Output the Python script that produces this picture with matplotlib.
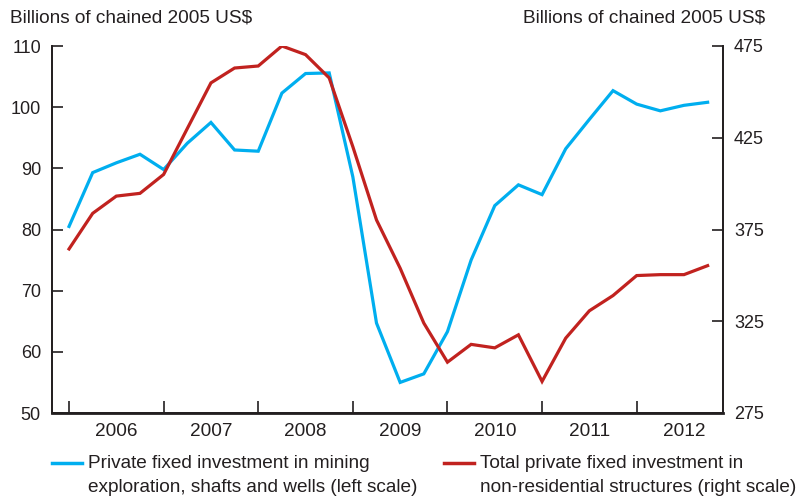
import matplotlib.pyplot as plt
from matplotlib.lines import Line2D

plt.rcParams['font.family'] = ['Liberation Sans', 'DejaVu Sans']

# quarterly data, 2005 Q4 to 2012 Q3
quarters = list(range(28))
mining = [80.5, 89.3, 90.9, 92.3, 89.8, 94.1, 97.5, 93.0, 92.8, 102.3,
          105.5, 105.6, 88.6, 64.7, 55.0, 56.4, 63.3, 75.0, 83.9, 87.3,
          85.7, 93.2, 98.0, 102.7, 100.5, 99.4, 100.3, 100.8]
structures = [364.4, 383.8, 393.2, 394.7, 405.0, 430.0, 454.9, 463.0, 464.1, 475.0,
              470.3, 457.6, 420.1, 380.2, 353.9, 324.0, 302.7, 312.4, 310.5, 317.6,
              292.2, 315.8, 330.7, 339.0, 349.9, 350.4, 350.4, 355.3]
years = ['2006', '2007', '2008', '2009', '2010', '2011', '2012']
year_ticks = [0, 4, 8, 12, 16, 20, 24]
year_centres = [2, 6, 10, 14, 18, 22, 26]

blue = '#00aeef'
red = '#c1221f'
ink = '#231f20'
fs = 13.7

fig = plt.figure(figsize=(8.05, 5.0), dpi=100)
ax = fig.add_axes([52 / 805, 1 - 413 / 500, (723 - 52) / 805, (413 - 46) / 500])
ax2 = ax.twinx()

ax.plot(quarters, mining, color=blue, lw=2.3, solid_joinstyle='miter', zorder=3)
ax2.plot(quarters, structures, color=red, lw=2.3, solid_joinstyle='miter', zorder=3)

ax.set_xlim(-0.72, 27.65)
ax.set_ylim(50, 110)
ax2.set_ylim(275, 475)
ax.set_yticks(range(50, 111, 10))
ax2.set_yticks(range(275, 476, 50))

ax.set_xticks(year_ticks)
ax.set_xticklabels([])
ax.set_xticks(year_centres, minor=True)
ax.set_xticklabels(years, minor=True)

for a in (ax, ax2):
    a.spines['top'].set_visible(False)
    for s in ('left', 'right', 'bottom'):
        a.spines[s].set_color(ink)
        a.spines[s].set_linewidth(1.3)
    a.tick_params(axis='y', direction='in', length=8, width=1.2, color=ink,
                  labelsize=fs - 0.7, labelcolor=ink, pad=8)
ax.spines['bottom'].set_linewidth(2)
ax.tick_params(axis='x', which='major', direction='in', length=9, width=1.2, color=ink)
ax.tick_params(axis='x', which='minor', length=0, labelsize=fs, labelcolor=ink, pad=7)

fig.text(10 / 805, 1 - 18 / 500, 'Billions of chained 2005 US$', fontsize=fs,
         color=ink, va='center', ha='left')
fig.text(765 / 805, 1 - 18 / 500, 'Billions of chained 2005 US$', fontsize=fs,
         color=ink, va='center', ha='right')

# legend
legend_items = [
    (blue, ['Private fixed investment in mining',
            'exploration, shafts and wells (left scale)'], 52),
    (red, ['Total private fixed investment in',
           'non-residential structures (right scale)'], 444),
]
for colour, lines, x0 in legend_items:
    fig.add_artist(Line2D([x0 / 805, (x0 + 30) / 805], [1 - 463 / 500] * 2,
                          color=colour, lw=2.5, transform=fig.transFigure))
    for k, line in enumerate(lines):
        fig.text((x0 + 36) / 805, 1 - (463 + 24 * k) / 500, line, fontsize=fs,
                 color=ink, va='center', ha='left')

fig.savefig('out.png', dpi=100)
